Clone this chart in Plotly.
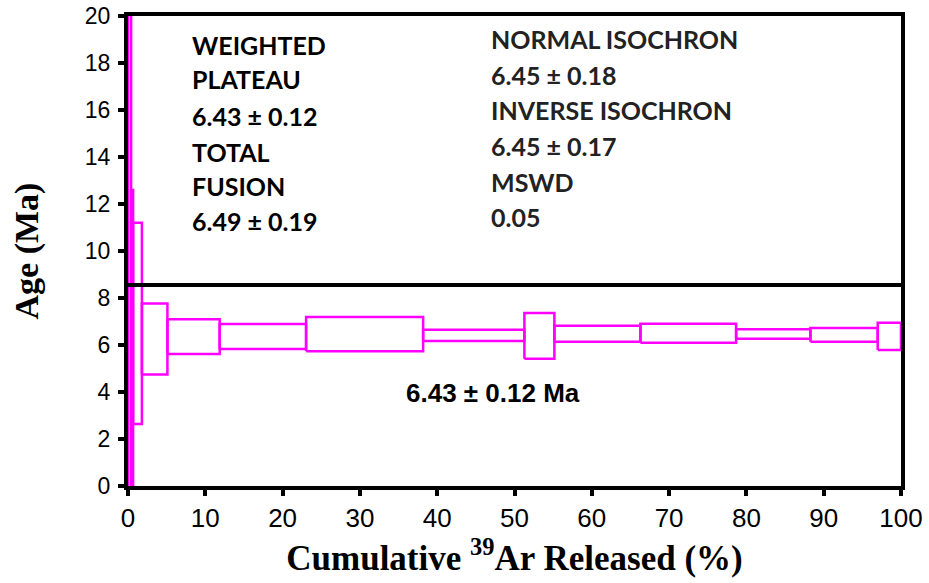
import plotly.graph_objects as go

# Step boundaries: cumulative 39Ar released (%)
cum_start = [0.0, 0.40, 0.66, 1.80, 5.10, 11.86, 23.04, 38.18, 51.28, 55.16, 66.29, 78.67, 88.28, 96.99]
cum_end   = [0.40, 0.66, 1.80, 5.10, 11.86, 23.04, 38.18, 51.28, 55.16, 66.29, 78.67, 88.28, 96.99, 100.0]
# Step ages (Ma) and 2-sigma errors
ages   = [10.0, 6.0, 6.92, 6.26, 6.36, 6.36, 6.46, 6.41, 6.39, 6.48, 6.50, 6.47, 6.43, 6.37]
errors = [15.0, 6.6, 4.28, 1.51, 0.74, 0.53, 0.73, 0.24, 0.97, 0.34, 0.40, 0.20, 0.29, 0.58]

divider_age = 8.55
plateau_label = "6.43 ± 0.12 Ma"
left_lines = ["WEIGHTED", "PLATEAU", "6.43 ± 0.12", "TOTAL", "FUSION", "6.49 ± 0.19"]
right_lines = ["NORMAL ISOCHRON", "6.45 ± 0.18", "INVERSE ISOCHRON", "6.45 ± 0.17", "MSWD", "0.05"]

MAG = "#FF00FF"
fig = go.Figure()

for x0, x1, a, e in zip(cum_start, cum_end, ages, errors):
    lo, hi = a - e, a + e
    fig.add_trace(go.Scatter(
        x=[x0, x1, x1, x0, x0], y=[lo, lo, hi, hi, lo],
        mode="lines", line=dict(color=MAG, width=2.5),
        showlegend=False, hoverinfo="skip", cliponaxis=True))

fig.add_trace(go.Scatter(x=[0, 100], y=[divider_age, divider_age], mode="lines",
                         line=dict(color="black", width=4), showlegend=False, hoverinfo="skip"))

W, H = 929, 583
L, R, T, B = 128, 28, 16, 97
pw, ph = W - L - R, H - T - B

def px2x(px):
    return (px - L) / pw * 100

def py2y(py):
    return (H - B - py) / ph * 20

left_y = [45, 79, 116, 152, 186, 221]
right_y = [39, 75, 110, 146, 182, 217]
for t, yy in zip(left_lines, left_y):
    fig.add_annotation(x=px2x(190), y=py2y(yy), text=t, showarrow=False, xanchor="left", yanchor="middle",
                       font=dict(family="Lato", size=25, color="black", weight="bold"))
for t, yy in zip(right_lines, right_y):
    fig.add_annotation(x=px2x(489), y=py2y(yy), text=t, showarrow=False, xanchor="left", yanchor="middle",
                       font=dict(family="Lato", size=25, color="#222222", weight="bold"))
fig.add_annotation(x=px2x(493), y=py2y(393), text=plateau_label, showarrow=False, xanchor="center", yanchor="middle",
                   font=dict(family="Liberation Sans", size=26, color="black", weight="bold"))

fig.update_layout(
    width=W, height=H, margin=dict(l=L, r=R, t=T, b=B),
    plot_bgcolor="white", paper_bgcolor="white",
    xaxis=dict(range=[0, 100], dtick=10, showgrid=False, zeroline=False, automargin=False,
               showline=True, linecolor="black", linewidth=4, mirror=True,
               ticks="outside", ticklen=6, tickwidth=4, tickcolor="black",
               tickfont=dict(family="Liberation Sans", size=26, color="black"),
               title=dict(text="<b>Cumulative <sup>39</sup>Ar Released (%)</b>",
                          font=dict(family="Liberation Serif", size=35, color="black"), standoff=8)),
    yaxis=dict(range=[0, 20], dtick=2, showgrid=False, zeroline=False, automargin=False,
               showline=True, linecolor="black", linewidth=4, mirror=True,
               ticks="outside", ticklen=6, tickwidth=4, tickcolor="black", ticklabelstandoff=3,
               tickfont=dict(family="Liberation Sans", size=23, color="black"),
               title=dict(text="<b>Age (Ma)</b>",
                          font=dict(family="Liberation Serif", size=34, color="black"), standoff=37)),
)

fig.write_html("out.html")
